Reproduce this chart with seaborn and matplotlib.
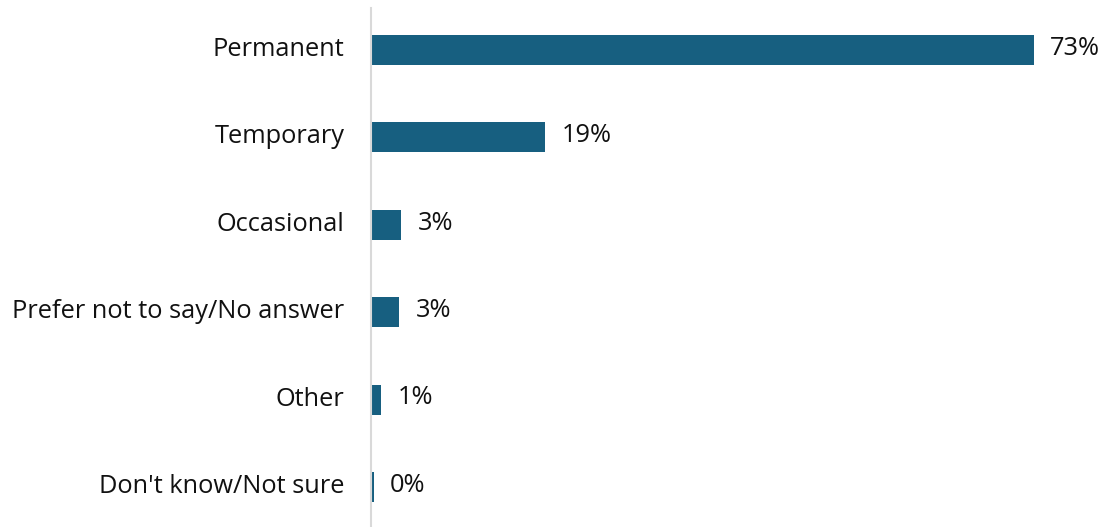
import matplotlib
matplotlib.use("Agg")
import matplotlib.pyplot as plt
import matplotlib.transforms as mtransforms
import seaborn as sns
import pandas as pd

categories = [
    "Permanent",
    "Temporary",
    "Occasional",
    "Prefer not to say/No answer",
    "Other",
    "Don't know/Not sure",
]
shares = [73.0, 19.2, 3.3, 3.1, 1.1, 0.3]

df = pd.DataFrame({"category": categories, "share": shares})

sns.set_theme(style="white")
plt.rcParams["font.family"] = ["Open Sans", "DejaVu Sans"]

fig = plt.figure(figsize=(11.11, 5.27), dpi=100)
ax = fig.add_axes([371 / 1111, -3.7 / 527, (1100 - 371) / 1111, 524.4 / 527])

bar_color = "#175F80"
sns.barplot(data=df, x="share", y="category", orient="h", color=bar_color,
            width=0.345, saturation=1, linewidth=0, ax=ax)

ax.set_xlim(0, (1100 - 371) / (663 / 73.0))
ax.set_ylim(len(categories) - 0.5, -0.5)

for i, v in enumerate(shares):
    ax.text(v + 1.8, i - 0.02, f"{v:.0f}%", va="center", ha="left",
            fontsize=18.3, color="#111111")

ax.set_xlabel("")
ax.set_ylabel("")
ax.set_xticks([])
ax.tick_params(axis="y", length=0, pad=19, labelsize=18.3, labelcolor="#111111")

# lift category labels slightly above the bar centres
lift = mtransforms.ScaledTranslation(0, 2.5 / 72, fig.dpi_scale_trans)
for lbl in ax.get_yticklabels():
    lbl.set_transform(lbl.get_transform() + lift)

for side in ["top", "right", "bottom"]:
    ax.spines[side].set_visible(False)
ax.spines["left"].set_color("#D9D9D9")
ax.spines["left"].set_linewidth(1.5)
ax.spines["left"].set_bounds(len(categories) - 0.5, -0.48)

fig.savefig("out.png", dpi=100, facecolor="white")
